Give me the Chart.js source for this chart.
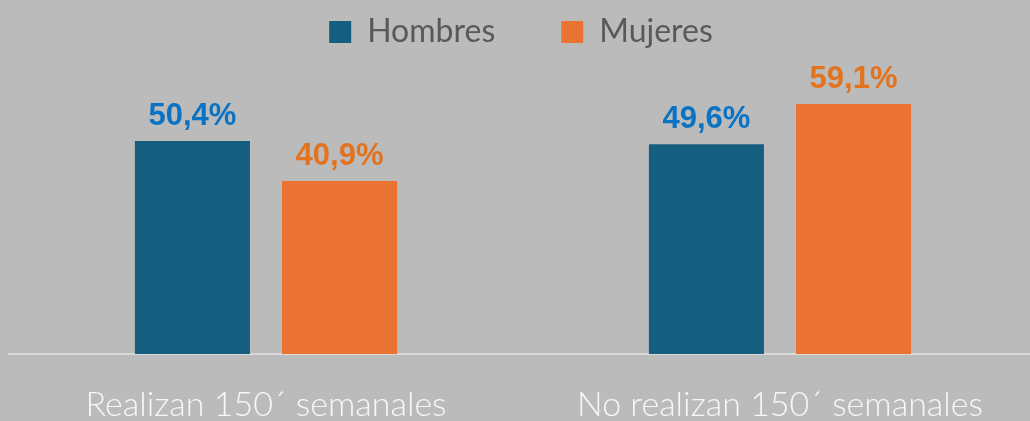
<!DOCTYPE html>
<html>
<head>
<meta charset="utf-8">
<script src="https://cdn.jsdelivr.net/npm/chart.js@4"></script>
<style>
  html, body { margin: 0; padding: 0; background: #bbbbbb; overflow: hidden; }
  #wrap { width: 1037px; height: 421px; }
</style>
</head>
<body>
<div id="wrap"><canvas id="genderChart"></canvas></div>
<script>
const categories = ['Realizan 150´ semanales', 'No realizan 150´ semanales'];
const seriesNames = ['Hombres', 'Mujeres'];
const hombres = [50.4, 49.6];
const mujeres = [40.9, 59.1];

const barColors = ['#165e80', '#ea7232'];
const labelColors = ['#0b73c4', '#e2731f'];

// draws the value above each bar
const valueLabels = {
  id: 'valueLabels',
  afterDatasetsDraw(chart) {
    const ctx = chart.ctx;
    ctx.save();
    ctx.font = 'bold 31px "Liberation Sans", Arial, sans-serif';
    ctx.textAlign = 'center';
    ctx.textBaseline = 'alphabetic';
    chart.data.datasets.forEach((ds, i) => {
      const meta = chart.getDatasetMeta(i);
      ctx.fillStyle = labelColors[i];
      meta.data.forEach((bar, j) => {
        const txt = ds.data[j].toFixed(1).replace('.', ',') + '%';
        ctx.fillText(txt, bar.x, bar.y - 16);
      });
    });
    ctx.restore();
  }
};

const ctx = document.getElementById('genderChart');
new Chart(ctx, {
  type: 'bar',
  data: {
    labels: categories,
    datasets: [
      { label: seriesNames[0], data: hombres, backgroundColor: barColors[0] },
      { label: seriesNames[1], data: mujeres, backgroundColor: barColors[1] }
    ]
  },
  options: {
    responsive: true,
    maintainAspectRatio: false,
    animation: false,
    categoryPercentage: 0.5725,
    barPercentage: 0.782,
    layout: { padding: { left: 9, right: 0, top: 2, bottom: 0 } },
    plugins: {
      tooltip: { enabled: false },
      legend: {
        position: 'top',
        labels: {
          boxWidth: 22,
          boxHeight: 22,
          padding: 14,
          color: '#595959',
          font: { family: 'Lato, "Open Sans", sans-serif', size: 32 },
          generateLabels(chart) {
            const items = Chart.defaults.plugins.legend.labels.generateLabels(chart);
            // wider gap between entries and legend a bit left of centre, like the original
            items[0].text = items[0].text + '\u2003\u2003\u2009';
            items[1].text = items[1].text + '\u2009';
            return items;
          }
        }
      }
    },
    scales: {
      x: {
        grid: { display: false },
        border: { color: '#d9d9d9', width: 2 },
        ticks: {
          color: '#f7f7f7',
          padding: 26,
          maxRotation: 0,
          minRotation: 0,
          font: { family: 'Lato, "Open Sans", sans-serif', size: 34, weight: 300, lineHeight: 1 }
        },
        afterFit(scale) { scale.height = 67; }
      },
      y: {
        display: false,
        min: 0,
        max: 70
      }
    }
  },
  plugins: [valueLabels]
});
</script>
</body>
</html>
